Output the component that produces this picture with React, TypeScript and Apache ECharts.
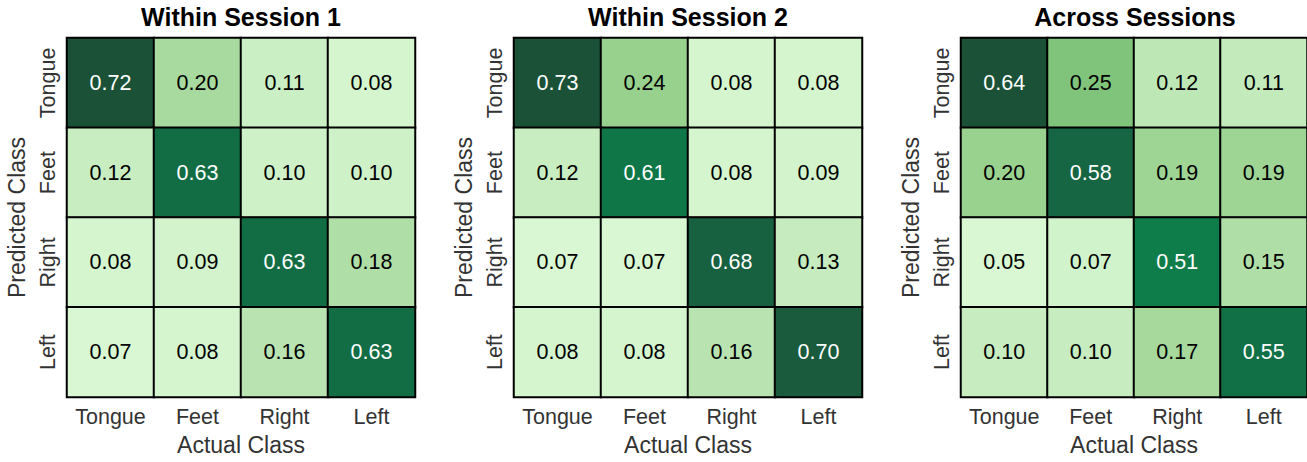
import React, { useEffect, useRef } from "react";
import * as echarts from "echarts";

const actualClasses = ["Tongue", "Feet", "Right", "Left"];
const predictedClasses = ["Tongue", "Feet", "Right", "Left"];
const panelTitles = ["Within Session 1", "Within Session 2", "Across Sessions"];

// rows = predicted class (top to bottom), columns = actual class
const session1 = [
  [0.72, 0.2, 0.11, 0.08],
  [0.12, 0.63, 0.1, 0.1],
  [0.08, 0.09, 0.63, 0.18],
  [0.07, 0.08, 0.16, 0.63],
];
const session2 = [
  [0.73, 0.24, 0.08, 0.08],
  [0.12, 0.61, 0.08, 0.09],
  [0.07, 0.07, 0.68, 0.13],
  [0.08, 0.08, 0.16, 0.7],
];
const acrossSessions = [
  [0.64, 0.25, 0.12, 0.11],
  [0.2, 0.58, 0.19, 0.19],
  [0.05, 0.07, 0.51, 0.15],
  [0.1, 0.1, 0.17, 0.55],
];

const colorStops = [
  "#d8f7d2",
  "#c3eabc",
  "#a8d99e",
  "#8ccb83",
  "#6cba70",
  "#52ab63",
  "#379b58",
  "#1c8a4e",
  "#0c7a48",
  "#166543",
  "#1b5237",
];

const FONT = "Liberation Sans, Arial, Helvetica, sans-serif";

export default function App() {
  const ref = useRef<HTMLDivElement>(null);

  useEffect(() => {
    document.body.style.margin = "0";
    if (!ref.current) return;
    const chart = echarts.init(ref.current, undefined, { renderer: "svg" });
    const panels = [session1, session2, acrossSessions];
    const lefts = [67, 514, 961];
    const gridW = 348;
    const gridTop = 38;
    const gridH = 359;

    const grids: any[] = [];
    const xAxes: any[] = [];
    const yAxes: any[] = [];
    const series: any[] = [];
    const visualMaps: any[] = [];
    const titles: any[] = [];

    panels.forEach((m, i) => {
      const flat = m.flat();
      const mn = Math.min(...flat);
      const mx = Math.max(...flat);
      const mid = (mn + mx) / 2;
      grids.push({ left: lefts[i], top: gridTop, width: gridW, height: gridH, containLabel: false });
      titles.push({
        text: panelTitles[i],
        left: lefts[i] + gridW / 2,
        top: 4,
        padding: 0,
        textAlign: "center",
        textStyle: { fontFamily: FONT, fontSize: 25, fontWeight: "bold", color: "#000" },
      });
      xAxes.push({
        type: "category",
        gridIndex: i,
        data: actualClasses,
        name: "Actual Class",
        nameLocation: "middle",
        nameGap: 36,
        nameTextStyle: { fontFamily: FONT, fontSize: 23, color: "#333" },
        axisLine: { show: false },
        axisTick: { show: false },
        splitLine: { show: false },
        axisLabel: { interval: 0, hideOverlap: false, fontFamily: FONT, fontSize: 21.5, color: "#333", margin: 9 },
      });
      yAxes.push({
        type: "category",
        gridIndex: i,
        data: predictedClasses,
        inverse: true,
        name: "Predicted Class",
        nameLocation: "middle",
        nameGap: 39,
        nameRotate: 90,
        nameTextStyle: { fontFamily: FONT, fontSize: 23, color: "#333" },
        axisLine: { show: false },
        axisTick: { show: false },
        splitLine: { show: false },
        axisLabel: {
          interval: 0,
          hideOverlap: false,
          fontFamily: FONT,
          fontSize: 21.5,
          color: "#333",
          rotate: 90,
          margin: 8,
        },
      });
      const data: any[] = [];
      m.forEach((row, r) => {
        row.forEach((v, c) => {
          data.push({
            value: [c, r, v],
            label: { color: v > mid ? "#ffffff" : "#000000" },
          });
        });
      });
      series.push({
        type: "heatmap",
        xAxisIndex: i,
        yAxisIndex: i,
        data,
        label: {
          show: true,
          fontFamily: FONT,
          fontSize: 21.5,
          formatter: (p: any) => p.value[2].toFixed(2),
        },
        itemStyle: { borderColor: "#000", borderWidth: 2 },
        emphasis: { disabled: true },
      });
      visualMaps.push({
        type: "continuous",
        show: false,
        seriesIndex: i,
        dimension: 2,
        min: mn,
        max: mx,
        inRange: { color: colorStops },
      });
    });

    chart.setOption({
      animation: false,
      backgroundColor: "#ffffff",
      title: titles,
      grid: grids,
      xAxis: xAxes,
      yAxis: yAxes,
      visualMap: visualMaps,
      series,
    });
    return () => chart.dispose();
  }, []);

  return <div ref={ref} style={{ width: 1307, height: 462 }} />;
}
